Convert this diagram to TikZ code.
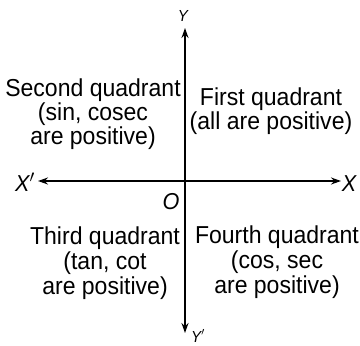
\documentclass[tikz,border=0pt]{standalone}
\usepackage{fontspec}
\setmainfont{Liberation Sans}[FakeStretch=0.94]
\usetikzlibrary{arrows.meta}
\begin{document}
\begin{tikzpicture}[x=1pt,y=-1pt,
  quad/.style={align=center,inner sep=0pt,anchor=base},
  axlab/.style={inner sep=0pt,font=\fontsize{23}{23}\selectfont\itshape},
  smlab/.style={inner sep=0pt,font=\fontsize{16}{16}\selectfont\itshape},
  axis/.style={line width=1.7pt,{Stealth[length=10pt,width=7pt]}-{Stealth[length=10pt,width=7pt]}}]
\useasboundingbox (0,0) rectangle (360,346);
\coordinate (xl) at (38,181);
\coordinate (xr) at (341,181);
\coordinate (yt) at (185,28);
\coordinate (yb) at (185,333);
\draw[axis] (xl) -- (xr);
\draw[axis] (yt) -- (yb);
\node[axlab] (X) at (349,184) {X};
\node[axlab] (Xp) at (25,182) {X$'$};
\node[smlab] (Y) at (183,16) {Y};
\node[smlab] (Yp) at (198,336) {Y$'$};
\node[axlab] (O) at (171,202) {O};
\node[quad,font=\fontsize{24.5}{24}\selectfont] (q2) at (93,144) {Second quadrant\\(sin, cosec\\are positive)};
\node[quad,font=\fontsize{24.5}{24}\selectfont] (q1) at (271,129) {First quadrant\\(all are positive)};
\node[quad,font=\fontsize{24.5}{25}\selectfont] (q3) at (105,294) {Third quadrant\\(tan, cot\\are positive)};
\node[quad,font=\fontsize{24.5}{25}\selectfont] (q4) at (277,293) {Fourth quadrant\\(cos, sec\\are positive)};
\end{tikzpicture}
\end{document}
